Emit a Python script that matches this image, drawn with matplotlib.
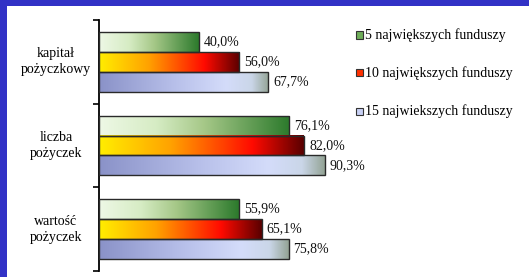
import numpy as np
import matplotlib
matplotlib.use("Agg")
import matplotlib.pyplot as plt
from matplotlib.patches import Rectangle
from matplotlib.colors import LinearSegmentedColormap

categories = ["kapitał\npożyczkowy", "liczba\npożyczek", "wartość\npożyczek"]
series_names = ["5 największych funduszy", "10 największych funduszy", "15 najwiekszych funduszy"]
top5 = [40.0, 76.1, 55.9]
top10 = [56.0, 82.0, 65.1]
top15 = [67.7, 90.3, 75.8]

W, H = 529, 277
FS = 10.0
plt.rcParams['font.family'] = ['Liberation Serif', 'DejaVu Serif']
fig = plt.figure(figsize=(W / 100, H / 100), dpi=100)
fig.patch.set_facecolor('white')

def fx(px):
    return px / W

def fy(py):
    return 1 - py / H

ax_left, ax_right = 99, 349
ax_top, ax_bot = 20, 271
ax = fig.add_axes([fx(ax_left), fy(ax_bot), fx(ax_right - ax_left), (ax_bot - ax_top) / H])
ax.set_xlim(0, 100)
ax.set_ylim(2.5, -0.5)
ax.patch.set_alpha(0)
for s in ['top', 'right', 'bottom']:
    ax.spines[s].set_visible(False)
ax.spines['left'].set_linewidth(1.3)
ax.set_xticks([])
ax.set_yticks([-0.5, 0.5, 1.5, 2.5])
ax.set_yticklabels([])
ax.tick_params(axis='y', direction='out', length=4, width=1.2)

cmaps = [
    LinearSegmentedColormap.from_list('g', [(0, '#eef8e6'), (0.3, '#d6ecc4'), (0.55, '#a6c888'), (1, '#2c7a2c')]),
    LinearSegmentedColormap.from_list('r', [(0, '#ffee00'), (0.35, '#ffa200'), (0.75, '#ff0a00'), (1, '#5a0000')]),
    LinearSegmentedColormap.from_list('b', [(0, '#8a92c8'), (0.45, '#b8c0ea'), (0.75, '#d4dcfa'), (0.9, '#cad6e8'), (1, '#94a496')]),
]
bh = 0.239
offsets = [-bh, 0, bh]
grad = np.linspace(0, 1, 256).reshape(1, -1)
for si, vals in enumerate([top5, top10, top15]):
    for ci, v in enumerate(vals):
        yc = ci + offsets[si]
        y0, y1 = yc - bh / 2, yc + bh / 2
        ax.imshow(grad, cmap=cmaps[si], extent=[0, v, y1, y0], aspect='auto',
                  interpolation='bilinear', zorder=2)
        ax.add_patch(Rectangle((0, y0), v, bh, fill=False, edgecolor='#2a2a2a', lw=1.0, zorder=3))
        ax.text(v + 2.0, yc, f"{v:.1f}%".replace('.', ','), va='center', ha='left',
                fontsize=FS, color='#111111', zorder=4)
ax.set_xlim(0, 100)
ax.set_ylim(2.5, -0.5)

for ci, cat in enumerate(categories):
    ax.text(fx(56), fy(ax_top + (ci + 0.5) * (ax_bot - ax_top) / 3), cat, transform=fig.transFigure,
            ha='center', va='center', fontsize=FS, linespacing=1.3)

leg_cols = ['#6fae5a', '#ff3000', '#c8d0f4']
leg_y = [35, 73, 111]
for name, col, ly in zip(series_names, leg_cols, leg_y):
    fig.patches.append(Rectangle((fx(356), fy(ly + 3.5)), fx(7), 7 / H, transform=fig.transFigure,
                                 facecolor=col, edgecolor='#333333', lw=0.8))
    fig.text(fx(365), fy(ly), name, ha='left', va='center', fontsize=FS)

border = '#3232c6'
fig.patches.append(Rectangle((0, 0), fx(7), 1, transform=fig.transFigure, facecolor=border, edgecolor='none'))
fig.patches.append(Rectangle((0, fy(6)), 1, 6 / H, transform=fig.transFigure, facecolor=border, edgecolor='none'))

fig.savefig('out.png', dpi=100)
